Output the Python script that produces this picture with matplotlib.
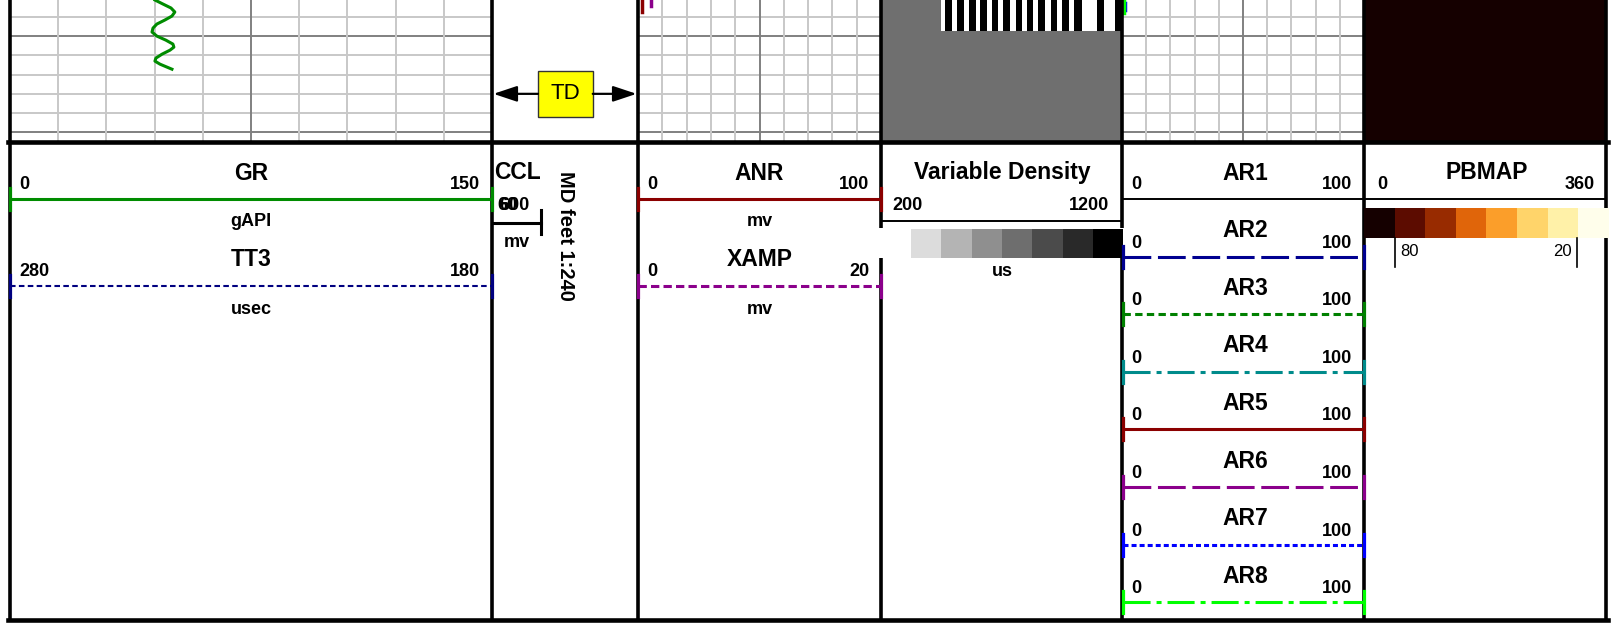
import numpy as np
import matplotlib.pyplot as plt
from matplotlib.patches import Rectangle

plt.rcParams['font.family'] = ['Liberation Sans', 'DejaVu Sans']
plt.rcParams['lines.scale_dashes'] = False

depth_top, depth_bot = 5246.25, 5260.9
grid_depths = [5248, 5250, 5252, 5254, 5256, 5258, 5260]
td_depth = 5256.0

gr_depth = [5246.25, 5246.67, 5247.08, 5247.5, 5247.92, 5248.33, 5248.75, 5249.17,
            5249.58, 5250.0, 5250.42, 5250.83, 5251.15, 5251.46, 5251.88, 5252.29,
            5252.6, 5252.92, 5253.23, 5253.44]
gr_val = [45.1, 47.6, 50.1, 51.3, 50.4, 48.2, 45.7, 44.5,
          44.2, 45.7, 48.5, 50.7, 51.0, 49.8, 47.3, 45.4,
          45.1, 46.7, 48.9, 50.4]

anr_depth = [5246.25, 5247.5]
anr_val = [1.5, 1.5]
xamp_depth = [5246.35, 5246.9]
xamp_val = [1.1, 1.1]
ar7_depth = [5246.55, 5247.3]
ar7_val = [1.3, 1.3]
ar8_depth = [5246.25, 5247.6]
ar8_val = [1.0, 1.0]

# VDL waveform: black band start/end times (us) over the top rows
vdl_wave_depth = (5246.25, 5249.45)
vdl_wave_start = 449
vdl_band_start = [466, 517, 565, 611, 659, 708, 759, 804, 853, 904, 950, 1001, 1095, 1171]
vdl_band_end = [493, 544, 594, 638, 687, 735, 786, 832, 880, 932, 980, 1033, 1125, 1200]
vdl_fill = '#6f6f6f'
vdl_legend = ['#dcdcdc', '#b4b4b4', '#8f8f8f', '#6e6e6e', '#4b4b4b', '#292929', '#000000']

pbmap_colors = ['#150000', '#5c0c00', '#982b00', '#e0650a', '#fb9e2a', '#ffd46a', '#fff1a8', '#fffeeb']
pbmap_ticks = ['80', '20']

ar_names = ['AR1', 'AR2', 'AR3', 'AR4', 'AR5', 'AR6', 'AR7', 'AR8']
ar_colors = ['black', '#000090', '#008000', '#008b8b', '#8b0000', '#8b008b', '#0000ff', '#00ff00']
ar_styles = ['-', (0, (20, 4.8)), (0, (5.3, 3.1)), (0, (19.5, 4.3, 3.6, 4.3)), '-',
             (0, (20, 4.8)), (0, (3.6, 2.2)), (0, (19.5, 4.3, 3.6, 4.3))]

# === Layout (pixels) ===
W, H = 1612, 623
LOG_BOTTOM = 141
edges = [10, 492, 638, 881, 1122, 1364, 1606]
light, dark = '#c8c8c8', '#808080'
TITLE_FS, NUM_FS = 16.5, 13

fig = plt.figure(figsize=(W / 100, H / 100), dpi=100)


def px_axes(x0, y0, x1, y1):
    return fig.add_axes([x0 / W, 1 - y1 / H, (x1 - x0) / W, (y1 - y0) / H])


def log_track(x0, x1, lo, hi, grid=True):
    ax = px_axes(x0, 0, x1, LOG_BOTTOM)
    ax.set_xlim(lo, hi)
    ax.set_ylim(depth_bot, depth_top)
    ax.axis('off')
    if grid:
        for d in grid_depths:
            ax.axhline(d, color=dark if d % 10 == 0 else light, lw=1.4, zorder=0)
        for i, v in enumerate(np.linspace(lo, hi, 11)[1:-1]):
            ax.axvline(v, color=dark if i == 4 else light, lw=1.4, zorder=0)
    return ax


# --- log section ---
ax_gr = log_track(edges[0], edges[1], 0, 150)
ax_gr.plot(gr_val, gr_depth, color='#008c00', lw=2.2)

ax_d = log_track(edges[1], edges[2], 0, 1, grid=False)
ax_d.add_patch(Rectangle((0.315, td_depth - 2.4), 0.375, 4.8, fc='#ffff00', ec='#333333', lw=1, zorder=3))
ax_d.text(0.5, td_depth, 'TD', ha='center', va='center', fontsize=16, zorder=4)
for tip, tail in [(0.01, 0.315), (0.99, 0.69)]:
    ax_d.annotate('', xy=(tip, td_depth), xytext=(tail, td_depth),
                  arrowprops=dict(arrowstyle='-|>,head_length=0.9,head_width=0.3', color='black',
                                  lw=1.6, mutation_scale=16, shrinkA=0, shrinkB=0))

ax_anr = log_track(edges[2], edges[3], 0, 100)
ax_anr.plot(anr_val, anr_depth, color='#8b0000', lw=2.5)
ax_anr.plot([v * 5 for v in xamp_val], xamp_depth, color='#8b008b', lw=2.5)

ax_vdl = log_track(edges[3], edges[4], 200, 1200, grid=False)
ax_vdl.fill_betweenx([depth_top, depth_bot], 200, 1200, color=vdl_fill, lw=0)
ax_vdl.fill_betweenx(vdl_wave_depth, vdl_wave_start, 1200, color='white', lw=0)
ax_vdl.bar(vdl_band_start, vdl_wave_depth[1] - vdl_wave_depth[0],
           width=np.array(vdl_band_end) - np.array(vdl_band_start),
           bottom=vdl_wave_depth[0], align='edge', color='black', lw=0)

ax_ar = log_track(edges[4], edges[5], 0, 100)
ax_ar.plot(ar7_val, ar7_depth, color=ar_colors[6], lw=2.5)
ax_ar.plot(ar8_val, ar8_depth, color=ar_colors[7], lw=2.5)

ax_pb = log_track(edges[5], edges[6], 0, 360, grid=False)
ax_pb.fill_betweenx([depth_top, depth_bot], 0, 360, color=pbmap_colors[0], lw=0)

# --- overlay: frame and header ---
ov = px_axes(0, 0, W, H)
ov.set_xlim(0, W)
ov.set_ylim(H, 0)
ov.axis('off')

for x in edges:
    ov.plot([x, x], [0, 620], color='black', lw=2.6, zorder=2)
ov.plot([8, 1608], [142, 142], color='black', lw=3.3, zorder=2)
ov.plot([8, 1608], [620, 620], color='black', lw=3.3, zorder=2)


def title(x, y, s, ha='center'):
    ov.text(x, y, s, ha=ha, va='baseline', fontsize=TITLE_FS, weight='bold', zorder=6)


def num(x, y, s, ha):
    ov.text(x, y, s, ha=ha, va='baseline', fontsize=NUM_FS, weight='bold', zorder=6)


def scale_line(x0, x1, y, color, ls='-', lw=2.2, ticks=True):
    ov.plot([x0, x1], [y, y], color=color, ls=ls, lw=lw, solid_capstyle='butt', zorder=4)
    if ticks:
        for x in (x0, x1):
            ov.plot([x, x], [y - 11, y + 11], color=color, lw=2.3, zorder=5)


def curve_header(x0, x1, line_y, name, lo, hi, unit, color, ls, lw, pad=9, rpad=12):
    cx = (x0 + x1) / 2
    title(cx, line_y - 19.5, name)
    num(x0 + pad, line_y - 10, lo, 'left')
    num(x1 - rpad, line_y - 10, hi, 'right')
    scale_line(x0, x1, line_y, color, ls, lw)
    if unit:
        num(cx, line_y + 27.5, unit, 'center')


# GR / TT3
curve_header(10, 492, 199, 'GR', '0', '150', 'gAPI', '#008c00', '-', 2.2)
curve_header(10, 492, 286, 'TT3', '280', '180', 'usec', '#000080', (0, (4, 2.4)), 1.5)

# CCL + depth
title(494, 179, 'CCL', ha='left')
num(497, 210, '60', 'left')
num(530, 210, '600', 'right')
ov.plot([493, 541], [223, 223], color='black', lw=2.2, zorder=4)
ov.plot([541, 541], [210, 234], color='black', lw=2.2, zorder=4)
num(517, 247, 'mv', 'center')
ov.text(566, 236, 'MD feet 1:240', rotation=-90, ha='center', va='center',
        fontsize=14.5, weight='bold', zorder=6)

# ANR / XAMP
curve_header(638, 881, 199, 'ANR', '0', '100', 'mv', '#8b0000', '-', 2.2)
curve_header(638, 881, 286, 'XAMP', '0', '20', 'mv', '#8b008b', (0, (6, 3)), 2.2)

# Variable Density
title(1002, 179, 'Variable Density')
num(892, 210, '200', 'left')
num(1109, 210, '1200', 'right')
ov.plot([881, 1122], [221, 221], color='black', lw=1.4, zorder=4)
ov.add_patch(Rectangle((878, 228), 246, 30, fc='white', ec='none', zorder=5))
bw = 30.3
for i, c in enumerate(vdl_legend):
    ov.add_patch(Rectangle((911 + i * bw, 229), bw, 29, fc=c, ec='none', zorder=5))
num(1002, 276, 'us', 'center')

# AR1..AR8
for i, (name, c, ls) in enumerate(zip(ar_names, ar_colors, ar_styles)):
    y = 199 + i * 57.6
    title(1245, y - 19.5, name)
    if i == 0:
        num(1131, y - 10, '0', 'left')
        num(1352, y - 10, '100', 'right')
        scale_line(1122, 1364, y, 'black', '-', 1.4, ticks=False)
    else:
        num(1131, y - 9, '0', 'left')
        num(1352, y - 9, '100', 'right')
        scale_line(1123, 1364, y, c, ls, 2.2)

# PBMAP
title(1487, 179, 'PBMAP')
num(1377, 189, '0', 'left')
num(1595, 189, '360', 'right')
ov.plot([1364, 1606], [199, 199], color='black', lw=1.4, zorder=4)
pw = 30.6
for i, c in enumerate(pbmap_colors):
    ov.add_patch(Rectangle((1364 + i * pw, 208), pw, 30, fc=c, ec='none', zorder=5))
for x, s, ha, dx in [(1395, pbmap_ticks[0], 'left', 5), (1577, pbmap_ticks[1], 'right', -5)]:
    ov.plot([x, x], [238, 267], color='black', lw=1.2, zorder=5)
    ov.text(x + dx, 256, s, ha=ha, va='baseline', fontsize=12, zorder=6)

fig.savefig('out.png', dpi=100)
